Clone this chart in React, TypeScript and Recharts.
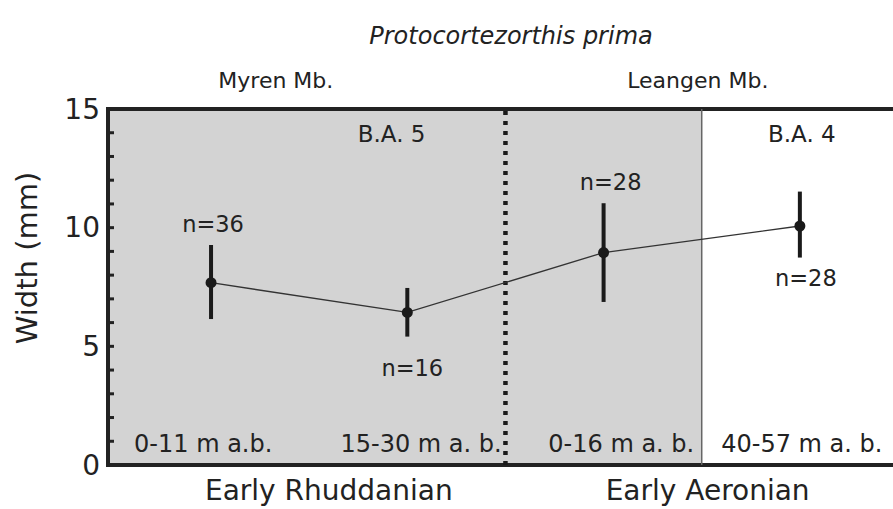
import React from 'react';
import {
  ComposedChart,
  Line,
  XAxis,
  YAxis,
  ErrorBar,
  LabelList,
  ReferenceArea,
  ReferenceLine,
  ReferenceDot,
  Label,
} from 'recharts';

// ---- data ----
const sectionLabels = ['0-11 m a.b.', '15-30 m a. b.', '0-16 m a. b.', '40-57 m a. b.'];
const sectionX = [0.5, 1.5, 2.5, 3.5];
const meanWidth = [7.68, 6.43, 8.95, 10.07];
const lowWidth = [6.15, 5.41, 6.87, 8.74];
const highWidth = [9.27, 7.46, 11.03, 11.52];
const sampleSizes = [36, 16, 28, 28];

const sectionLabelX = [0.46, 1.57, 2.59, 3.51];
const zoneLabels = ['B.A. 5', 'B.A. 4'];
const zoneLabelX = [1.42, 3.51];
const memberNames = ['Myren Mb.', 'Leangen Mb.'];
const memberX = [0.83, 2.98];
const periodNames = ['Early Rhuddanian', 'Early Aeronian'];
const periodX = [1.1, 3.03];
const yTicks = [0, 1, 2, 3, 4, 5, 6, 7, 8, 9, 10, 11, 12, 13, 14, 15];
const yLabelTicks = [0, 5, 10, 15];
const facieBoundaryX = 2;
const shadeEndX = 3;

// ---- styling ----
const FONT = '"DejaVu Sans", sans-serif';
const INK = '#222';
const GRAY = '#d3d3d3';
const nLabelOffset = [
  { dx: 2, dy: -51 },
  { dx: 5, dy: 64 },
  { dx: 7, dy: -63 },
  { dx: 6, dy: 60 },
];

const data = sectionX.map((x, i) => ({
  x,
  width: meanWidth[i],
  err: [meanWidth[i] - lowWidth[i], highWidth[i] - meanWidth[i]],
  n: `n=${sampleSizes[i]}`,
}));

const YTick = (props: any) => {
  const { x, y, payload } = props;
  const v = payload.value;
  return (
    <g>
      <line x1={x} x2={x + 6} y1={y} y2={y} stroke={INK} strokeWidth={3} />
      {yLabelTicks.includes(v) && (
        <text
          x={x - 8}
          y={y}
          textAnchor="end"
          dominantBaseline="central"
          fontFamily={FONT}
          fontSize={28}
          fill={INK}
        >
          {v}
        </text>
      )}
    </g>
  );
};

const BottomTick = (props: any) => {
  const { x, y, index } = props;
  return (
    <text x={x} y={y + 20} textAnchor="middle" fontFamily={FONT} fontSize={28} fill={INK}>
      {periodNames[index]}
    </text>
  );
};

const textAt = (txt: string, size: number) => (props: any) => {
  const vb = props.viewBox || {};
  const cx = vb.x + (vb.width || 0) / 2;
  const cy = vb.y + (vb.height || 0) / 2;
  return (
    <text x={cx} y={cy} textAnchor="middle" fontFamily={FONT} fontSize={size} fill={INK}>
      {txt}
    </text>
  );
};

const NLabel = (props: any) => {
  const { x, y, value, index } = props;
  const o = nLabelOffset[index] || { dx: 0, dy: 0 };
  return (
    <text x={x + o.dx} y={y + o.dy} textAnchor="middle" fontFamily={FONT} fontSize={22.5} fill={INK}>
      {value}
    </text>
  );
};

const TitleLabel = (props: any) => {
  const vb = props.viewBox;
  return (
    <text
      x={vb.x + vb.width / 2 + 8}
      y={vb.y + 44}
      textAnchor="middle"
      fontFamily={FONT}
      fontStyle="italic"
      fontSize={24}
      fill={INK}
    >
      Protocortezorthis prima
    </text>
  );
};

const YTitle = (props: any) => {
  const vb = props.viewBox;
  const cx = vb.x + 27;
  const cy = vb.y + vb.height / 2 - 29;
  return (
    <text
      x={cx}
      y={cy}
      transform={`rotate(-90, ${cx}, ${cy})`}
      textAnchor="middle"
      dominantBaseline="central"
      fontFamily={FONT}
      fontSize={29}
      fill={INK}
    >
      Width (mm)
    </text>
  );
};

export default function App() {
  return (
    <div
      style={{
        position: 'absolute',
        left: 0,
        top: 0,
        width: 893,
        height: 509,
        overflow: 'hidden',
        background: '#fff',
      }}
    >
      <ComposedChart
        width={898}
        height={509}
        data={data}
        margin={{ top: 0, right: 0, bottom: 0, left: 0 }}
      >
        <XAxis
          dataKey="x"
          type="number"
          domain={[-0.025, 4]}
          ticks={periodX}
          tick={<BottomTick />}
          tickLine={false}
          axisLine={false}
          tickSize={0}
          tickMargin={15}
          height={44}
          interval={0}
          allowDataOverflow
        />
        <XAxis
          xAxisId="top"
          orientation="top"
          type="number"
          domain={[-0.025, 4]}
          tick={false}
          tickLine={false}
          axisLine={false}
          height={109}
          allowDataOverflow
        >
          <Label content={<TitleLabel />} />
        </XAxis>
        <YAxis
          type="number"
          domain={[0, 15]}
          ticks={yTicks}
          tick={<YTick />}
          tickLine={false}
          axisLine={false}
          tickSize={0}
          tickMargin={0}
          width={108}
          interval={0}
        >
          <Label content={<YTitle />} />
        </YAxis>

        <ReferenceArea x2={shadeEndX} y1={0} y2={15} fill={GRAY} fillOpacity={1} stroke="none" />
        <ReferenceLine x={shadeEndX} stroke="#666" strokeWidth={1.5} />
        <ReferenceLine x={facieBoundaryX} stroke="#1a1a1a" strokeWidth={4.5} strokeDasharray="4 6" />

        {memberNames.map((t, i) => (
          <ReferenceDot
            key={'m' + i}
            x={memberX[i]}
            y={15.885}
            r={0}
            fill="none"
            stroke="none"
            ifOverflow="visible"
            label={textAt(t, 22)}
          />
        ))}
        {zoneLabels.map((t, i) => (
          <ReferenceDot
            key={'z' + i}
            x={zoneLabelX[i]}
            y={13.61}
            r={0}
            fill="none"
            stroke="none"
            label={textAt(t, 23)}
          />
        ))}
        {sectionLabels.map((t, i) => (
          <ReferenceDot
            key={'s' + i}
            x={sectionLabelX[i]}
            y={0.55}
            r={0}
            fill="none"
            stroke="none"
            label={textAt(t, 24)}
          />
        ))}

        <Line
          dataKey="width"
          type="linear"
          stroke="#333"
          strokeWidth={1.3}
          dot={{ r: 5.5, fill: '#1a1a1a', stroke: '#1a1a1a', strokeWidth: 0 }}
          activeDot={false}
          isAnimationActive={false}
        >
          <ErrorBar
            dataKey="err"
            direction="y"
            width={0}
            stroke="#1a1a1a"
            strokeWidth={4}
            isAnimationActive={false}
          />
          <LabelList dataKey="n" content={<NLabel />} />
        </Line>

        <ReferenceArea y1={0} y2={15} fill="none" stroke={INK} strokeWidth={4} />
      </ComposedChart>
    </div>
  );
}
